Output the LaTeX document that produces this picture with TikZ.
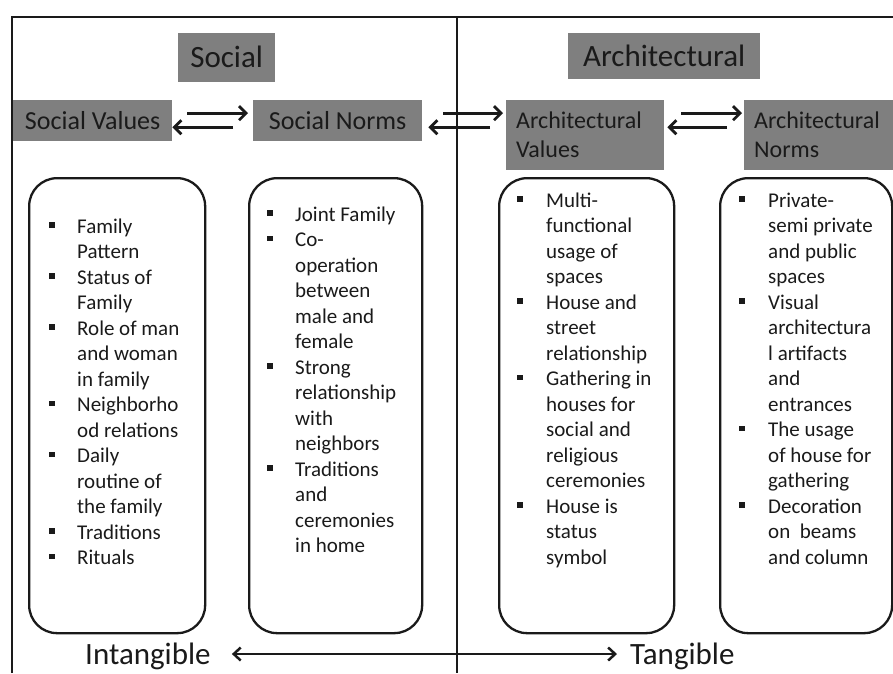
\documentclass[tikz,border=0pt]{standalone}
\usepackage{fontspec}
\setmainfont{Carlito}
\usetikzlibrary{arrows.meta,calc}
\definecolor{hdrgray}{HTML}{7F7F7F}
\definecolor{ink}{HTML}{1A1A1A}
\begin{document}
\begin{tikzpicture}[x=1pt,y=-1pt,
  frameline/.style={line width=2.4pt,draw=ink},
  hdr/.style={fill=hdrgray,inner sep=0pt,anchor=north west,text=ink},
  ttlbox/.style={hdr,font=\fontsize{31pt}{37pt}\selectfont,text height=20pt,text depth=0pt},
  subbox/.style={hdr,font=\fontsize{26pt}{31pt}\selectfont,text height=16.7pt,text depth=0pt},
  subtwo/.style={hdr,font=\fontsize{24pt}{29pt}\selectfont,align=left,inner xsep=10pt},
  rbox/.style={draw=ink,line width=2.3pt,rounded corners=28pt,anchor=north west,minimum height=455pt},
  lineitem/.style={anchor=base west,inner sep=0pt,text=ink,font=\fontsize{21pt}{25.5pt}\selectfont},
  bul/.style={fill=ink,inner sep=0pt,minimum size=5.5pt},
  pairarrow/.style={line width=2.8pt,draw=ink,-{Straight Barb[length=7pt,width=14pt]}},
  polearrow/.style={line width=2.5pt,draw=ink,{Straight Barb[length=7pt,width=13pt]}-{Straight Barb[length=7pt,width=13pt]}},
  pole/.style={anchor=base west,inner sep=0pt,text=ink,font=\fontsize{31pt}{37pt}\selectfont}
]
\useasboundingbox (0,0) rectangle (893,673);

% outer frame and the divider between the two halves
\draw[frameline] (12,673) -- (12,17) -- (893,17);
\draw[frameline] (457,17) -- (457,673);

% section titles
\node[ttlbox,minimum width=97pt,minimum height=49pt] (soc) at (178,33) {Social};
\node[ttlbox,minimum width=192pt,minimum height=46pt] (arc) at (568,33) {Architectural};

% category headers
\node[subbox,minimum width=159pt,minimum height=41pt] (sv) at (13,100) {Social Values};
\node[subbox,minimum width=169pt,minimum height=41pt] (sn) at (253,100) {Social Norms};
\node[subtwo,minimum width=158pt,minimum height=70pt,text width=138pt] (av) at (506,100) {Architectural\\Values};
\node[subtwo,minimum width=149pt,minimum height=70pt,text width=129pt] (an) at (744,100) {Architectural\\Norms};

% paired arrows between headers
\draw[pairarrow] ($(sv.east)+(15,-7.5)$) -- ($(sn.west)+(-5,-7.5)$);
\draw[pairarrow] ($(sn.west)+(-20,6.5)$) -- ($(sv.east)+(0,6.5)$);
\draw[pairarrow] ($(sn.east)+(21,-7.5)$) -- ($(av.west |- sn.east)+(-3,-7.5)$);
\draw[pairarrow] ($(av.west |- sn.east)+(-16,6.5)$) -- ($(sn.east)+(6,6.5)$);
\draw[pairarrow] ($(av.east)+(17,-22)$) -- ($(an.west)+(-2,-22)$);
\draw[pairarrow] ($(an.west)+(-17,-8)$) -- ($(av.east)+(3,-8)$);

% rounded list boxes
\node[rbox,minimum width=176pt] (b1) at (28,177) {};
\node[rbox,minimum width=173pt] (b2) at (248,177) {};
\node[rbox,minimum width=175pt] (b3) at (498,177) {};
\node[rbox,minimum width=172pt] (b4) at (719,177) {};

% list: social values
\foreach \t [count=\i] in {Family,Pattern,Status of,Family,Role of man,and woman,in family,Neighborho,od relations,Daily,routine of,the family,Traditions,Rituals}
  \node[lineitem] (sva\i) at (77,{233+(\i-1)*25.5}) {\t};
\foreach \k in {1,3,5,8,10,13,14}
  \node[bul] (svb\k) at (52,{233+(\k-1)*25.5-8}) {};

% list: social norms
\foreach \t [count=\i] in {Joint Family,Co-,operation,between,male and,female,Strong,relationship,with,neighbors,Traditions,and,ceremonies,in home}
  \node[lineitem] (sna\i) at (295,{221+(\i-1)*25.5}) {\t};
\foreach \k in {1,2,7,11}
  \node[bul] (snb\k) at (270,{221+(\k-1)*25.5-8}) {};

% list: architectural values
\foreach \t [count=\i] in {Multi-,functional,usage of,spaces,House and,street,relationship,Gathering in,houses for,social and,religious,ceremonies,House is,status,symbol}
  \node[lineitem] (ava\i) at (546,{207+(\i-1)*25.5}) {\t};
\foreach \k in {1,5,8,13}
  \node[bul] (avb\k) at (520,{207+(\k-1)*25.5-8}) {};

% list: architectural norms
\foreach \t [count=\i] in {Private-,semi private,and public,spaces,Visual,architectura,l artifacts,and,entrances,The usage,of house for,gathering,Decoration,on\ \ beams,and column}
  \node[lineitem] (ana\i) at (768,{207+(\i-1)*25.5}) {\t};
\foreach \k in {1,5,10,13}
  \node[bul] (anb\k) at (742,{207+(\k-1)*25.5-8}) {};

% intangible / tangible scale
\node[pole] (intang) at (85,664) {Intangible};
\node[pole] (tang) at (630,664) {Tangible};
\draw[polearrow] ($(intang.base east)+(21,-10)$) -- ($(tang.base west)+(-13,-10)$);
\end{tikzpicture}
\end{document}
